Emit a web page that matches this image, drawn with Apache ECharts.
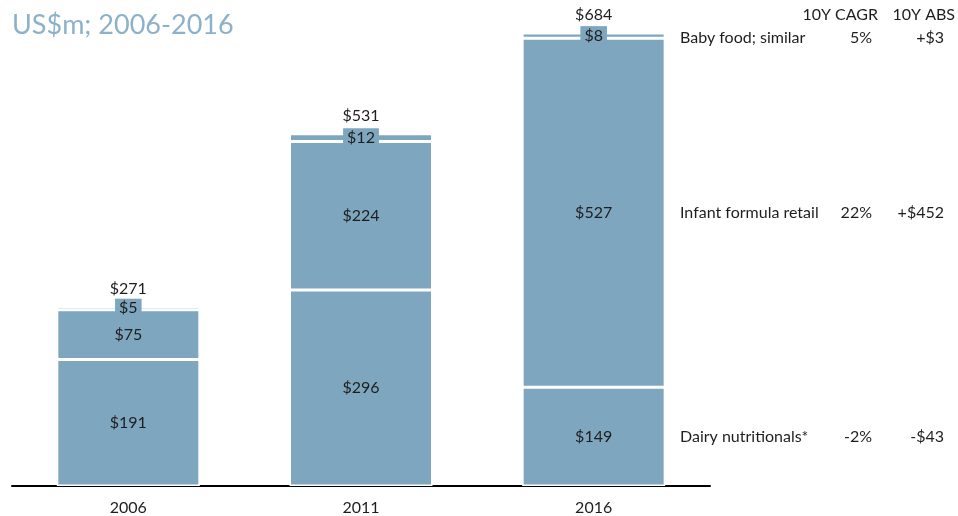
<!DOCTYPE html>
<html>
<head>
<meta charset="utf-8">
<script src="https://cdn.jsdelivr.net/npm/echarts@6/dist/echarts.min.js"></script>
<style>
  html, body { margin: 0; padding: 0; background: #fff; }
  #chart { width: 958px; height: 516px; }
</style>
</head>
<body>
<div id="chart"></div>
<script>
var years = ["2006", "2011", "2016"];
var dairy = [191, 296, 149];
var infant = [75, 224, 527];
var babyFood = [5, 12, 8];
var totals = [271, 531, 684];
var segNames = ["Dairy nutritionals*", "Infant formula retail", "Baby food; similar"];
var cagr = ["-2%", "22%", "5%"];
var absChange = ["-$43", "+$452", "+$3"];

var barColor = "#7ea6bf";
var textColor = "#1e1e1e";
var font = "Lato";

var myChart = echarts.init(document.getElementById("chart"));

function segSeries(name, values, extraLabel) {
    return {
        name: name,
        type: "bar",
        stack: "total",
        barWidth: 143,
        data: values,
        itemStyle: { color: barColor, borderColor: "#fff", borderWidth: 1.5 },
        label: Object.assign({
            show: true,
            position: "inside",
            color: textColor,
            fontFamily: font,
            fontSize: 16,
            formatter: function (p) { return "$" + p.value; }
        }, extraLabel || {})
    };
}

var option = {
    animation: false,
    grid: { left: 12, right: 248, top: 33, bottom: 30 },
    xAxis: {
        type: "category",
        data: years,
        axisLine: { lineStyle: { color: "#000", width: 2 } },
        axisTick: { show: false },
        axisLabel: { color: textColor, fontFamily: font, fontSize: 16, margin: 14 }
    },
    yAxis: {
        type: "value",
        min: 0,
        max: 684,
        show: false,
        splitLine: { show: false }
    },
    series: [
        segSeries(segNames[0], dairy),
        segSeries(segNames[1], infant),
        segSeries(segNames[2], babyFood, {
            backgroundColor: barColor,
            padding: [2, 4, 1, 4]
        }),
        {
            name: "Total",
            type: "line",
            data: totals,
            symbol: "circle",
            symbolSize: 2,
            itemStyle: { color: "rgba(0,0,0,0)" },
            lineStyle: { color: "rgba(0,0,0,0)" },
            label: {
                show: true,
                position: "top",
                distance: 9,
                color: textColor,
                fontFamily: font,
                fontSize: 16,
                formatter: function (p) { return "$" + p.value; }
            }
        }
    ]
};
myChart.setOption(option);

// right-hand table, placed against the 2016 segments through the axis scale
var last = years.length - 1;
var segVals = [dairy[last], infant[last], babyFood[last]];
function txt(x, y, s, align) {
    return {
        type: "text", x: x, y: y,
        style: { text: s, fill: textColor, font: "16px " + font, align: align || "left", verticalAlign: "middle" }
    };
}
var graphics = [
    {
        type: "text", left: 12, top: 12,
        style: { text: "US$m; 2006-2016", fill: "#8db1c8", font: "27px " + font }
    },
    txt(878, 15, "10Y CAGR", "right"),
    txt(955, 15, "10Y ABS", "right")
];
var base = 0;
for (var i = 0; i < segVals.length; i++) {
    var mid = base + segVals[i] / 2;
    base += segVals[i];
    var py = myChart.convertToPixel({ gridIndex: 0 }, [last, mid])[1];
    if (i === 2) py += 2;
    graphics.push(
        txt(680, py, segNames[i]),
        txt(872, py, cagr[i], "right"),
        txt(944, py, absChange[i], "right")
    );
}
myChart.setOption({ graphic: graphics });
</script>
</body>
</html>
